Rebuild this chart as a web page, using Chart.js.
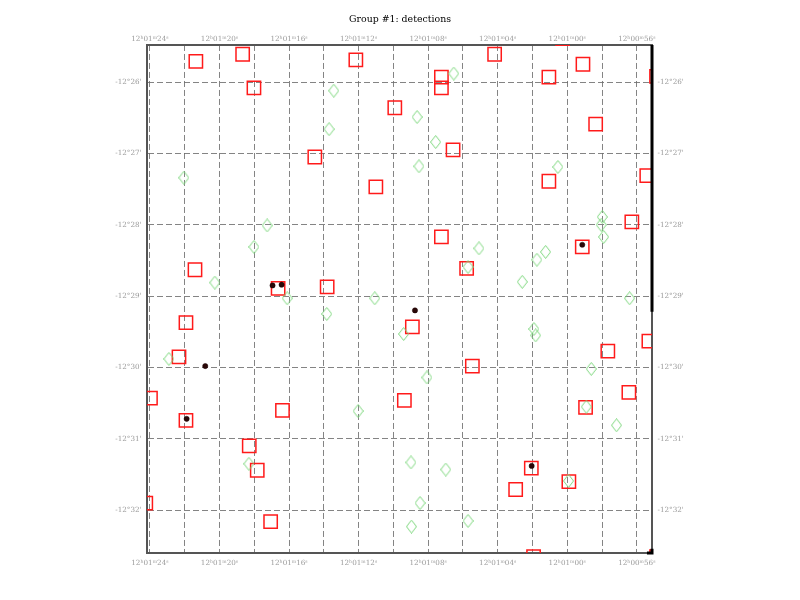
<!DOCTYPE html>
<html><head><meta charset="utf-8">
<script src="https://cdn.jsdelivr.net/npm/chart.js@4/dist/chart.umd.min.js"></script>
<style>html,body{margin:0;padding:0;background:#fff}#wrap{width:800px;height:600px}</style>
</head><body><div id="wrap"><canvas id="c" width="800" height="600"></canvas></div>
<script>
// Title
const chartTitle = 'Group #1: detections';

// RA: seconds after 12h00m00s ; Dec: arcminutes south of -12°
const raMin = 55.13, raMax = 84.17;
const decMin = 25.48, decMax = 32.60;

const raTickValues = [56,58,60,62,64,66,68,70,72,74,76,78,80,82,84];
const raTickLabels = ['12ʰ00ᵐ56ˢ','', '12ʰ01ᵐ00ˢ','', '12ʰ01ᵐ04ˢ','', '12ʰ01ᵐ08ˢ','', '12ʰ01ᵐ12ˢ','', '12ʰ01ᵐ16ˢ','', '12ʰ01ᵐ20ˢ','', '12ʰ01ᵐ24ˢ'];
const decTickValues = [26,27,28,29,30,31,32];
const decTickLabels = ["-12°26'","-12°27'","-12°28'","-12°29'","-12°30'","-12°31'","-12°32'"];

// Red squares
const squaresRA  = [81.36,78.67,72.16,78.02,69.92,74.52,71.01,81.41,76.63,73.81,64.18,60.27,59.10,61.06,67.24,67.24,58.37,66.57,61.06,55.43,56.29,67.24,59.14,65.79,54.87,81.93,82.33,83.97,76.38,81.93,78.29,77.83,84.24,77.06,68.91,65.46,69.37,57.67,55.31,56.46,58.95,62.07,59.91,62.97,61.94,54.87];
const squaresDec = [25.71,25.61,25.69,26.08,26.36,27.05,27.47,28.63,28.89,28.87,25.61,25.39,25.75,25.93,25.93,26.08,26.59,26.95,27.39,27.31,27.96,28.17,28.31,28.61,25.92,29.37,29.85,30.43,30.60,30.74,31.10,31.44,31.90,32.16,29.43,29.98,30.46,29.77,29.63,30.35,30.56,31.41,31.60,31.71,32.65,32.65];

// Green diamonds
const diamondsRA  = [73.43,73.70,82.05,77.26,78.02,80.27,76.11,71.07,66.53,68.64,67.57,68.53,60.54,57.99,58.05,57.91,65.08,61.25,61.75,65.71,62.59,56.42,73.83,69.41,82.91,72.03,78.31,61.92,61.82,68.07,58.62,58.91,57.17,68.99,66.99,59.93,68.47,68.96,65.71];
const diamondsDec = [26.12,26.66,27.34,28.01,28.31,28.81,29.03,29.03,25.88,26.49,26.84,27.18,27.19,27.89,28.00,28.17,28.33,28.38,28.49,28.59,28.80,29.03,29.25,29.53,29.88,30.61,31.35,29.46,29.55,30.14,30.02,30.55,30.81,31.33,31.43,31.59,31.90,32.23,32.15];

// Black dots
const dotsRA  = [76.95,76.43,59.14,80.82,81.89,68.76,62.05];
const dotsDec = [28.85,28.84,28.28,29.98,30.72,29.20,31.38];

// Coverage edge (black line)
const edgeRA  = [55.13,55.13];
const edgeDec = [25.48,29.22];
const cornerRA  = [55.42,55.13,55.13];
const cornerDec = [32.60,32.60,32.54];

const pts = (xs, ys) => xs.map((x, i) => ({x, y: ys[i]}));

// diamond marker (taller than wide)
const dia = document.createElement('canvas');
dia.width = 11; dia.height = 14;
(() => {
  const g = dia.getContext('2d');
  g.strokeStyle = '#7fd87f'; g.lineWidth = 1;
  g.beginPath();
  g.moveTo(5.5, 0.5); g.lineTo(10.5, 7); g.lineTo(5.5, 13.5); g.lineTo(0.5, 7); g.closePath();
  g.stroke();
})();

const tickFont = {family: 'DejaVu Serif', size: 7.2};
const tickColor = '#9a9a9a';
const gridColor = 'rgba(110,110,110,0.85)';
const borderColor = '#555';

function raTicks(scale) { scale.ticks = raTickValues.map(v => ({value: v})); }
function decTicks(scale) { scale.ticks = decTickValues.map(v => ({value: v})); }
const raLabel = (v, i) => raTickLabels[i];
const decLabel = (v, i) => decTickLabels[i];

new Chart(document.getElementById('c'), {
  type: 'scatter',
  data: {
    datasets: [
      {data: pts(edgeRA, edgeDec), showLine: true, borderColor: '#000', borderWidth: 3, pointRadius: 0, clip: false},
      {data: pts(cornerRA, cornerDec), showLine: true, borderColor: '#000', borderWidth: 3, pointRadius: 0, clip: false},
      {data: pts(dotsRA, dotsDec), pointStyle: 'circle', pointRadius: 2.6, backgroundColor: '#2a0808', borderColor: '#1a0000', borderWidth: 0.5, clip: 0},
      {data: pts(diamondsRA, diamondsDec), pointStyle: dia, pointRadius: 6, clip: 0},
      {data: pts(squaresRA, squaresDec), pointStyle: 'rect', pointRadius: 9.4, borderColor: '#ff1a1a', borderWidth: 1.5, backgroundColor: 'rgba(0,0,0,0)', clip: 0}
    ]
  },
  options: {
    responsive: false, animation: false, devicePixelRatio: 1,
    layout: {padding: 0},
    plugins: {
      legend: {display: false}, tooltip: {enabled: false},
      title: {display: true, text: chartTitle, color: '#000', font: {family: 'DejaVu Serif', size: 9.4, weight: 'normal'}, padding: {top: 14, bottom: 6.7}}
    },
    scales: {
      x: {type: 'linear', position: 'bottom', reverse: true, min: raMin, max: raMax,
          afterBuildTicks: raTicks, afterFit: s => { s.height = 47; },
          ticks: {callback: raLabel, font: tickFont, color: tickColor, padding: 5.5, autoSkip: false, maxRotation: 0},
          grid: {color: gridColor, lineWidth: 1, drawTicks: false},
          border: {display: true, color: borderColor, width: 2, dash: [6, 3]}},
      x2: {type: 'linear', position: 'top', reverse: true, min: raMin, max: raMax,
          afterBuildTicks: raTicks, afterFit: s => { s.height = 13; },
          ticks: {callback: raLabel, font: tickFont, color: tickColor, padding: 2, autoSkip: false, maxRotation: 0},
          grid: {display: false, drawTicks: false},
          border: {display: true, color: borderColor, width: 2}},
      y: {type: 'linear', position: 'left', reverse: true, min: decMin, max: decMax,
          afterBuildTicks: decTicks, afterFit: s => { s.width = 147; },
          ticks: {callback: decLabel, font: tickFont, color: tickColor, padding: 5.5, autoSkip: false},
          grid: {color: gridColor, lineWidth: 1, drawTicks: false},
          border: {display: true, color: borderColor, width: 2, dash: [6, 3]}},
      y2: {type: 'linear', position: 'right', reverse: true, min: decMin, max: decMax,
          afterBuildTicks: decTicks, afterFit: s => { s.width = 148; },
          ticks: {callback: decLabel, font: tickFont, color: tickColor, padding: 5.5, autoSkip: false},
          grid: {display: false, drawTicks: false},
          border: {display: true, color: borderColor, width: 2}}
    }
  }
});
</script></body></html>
